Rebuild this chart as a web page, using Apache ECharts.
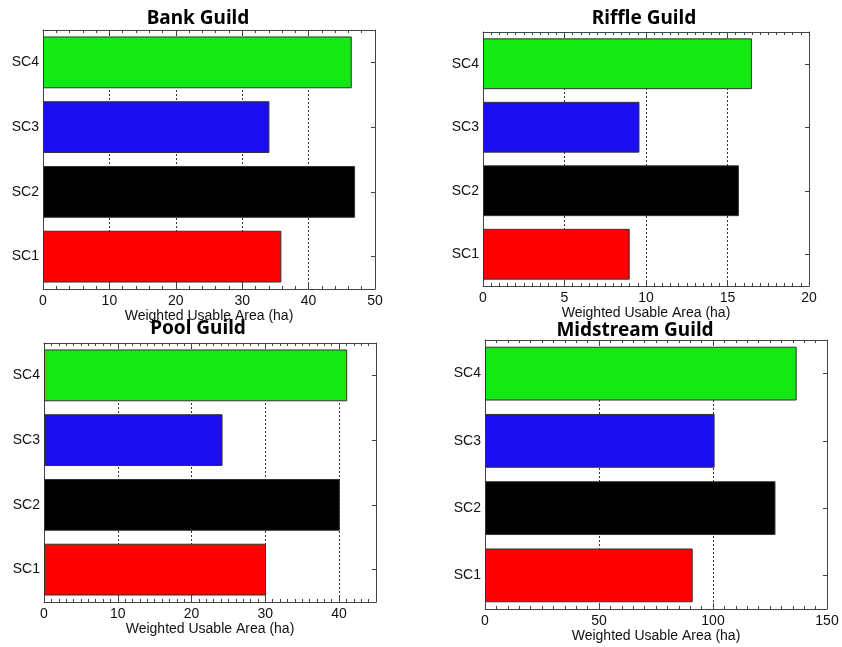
<!DOCTYPE html>
<html>
<head>
<meta charset="utf-8">
<script src="https://cdn.jsdelivr.net/npm/echarts@6/dist/echarts.min.js"></script>
<style>
html,body{margin:0;padding:0;background:#fff;}
#chart{width:842px;height:647px;}
</style>
</head>
<body>
<div id="chart"></div>
<script>
// ---- data ----
const categories = ['SC1', 'SC2', 'SC3', 'SC4'];
const bankValues = [35.9, 47.0, 34.1, 46.5];
const riffleValues = [9.0, 15.7, 9.6, 16.5];
const poolValues = [30.1, 40.1, 24.2, 41.1];
const midstreamValues = [91.1, 127.4, 100.7, 136.7];
const panelTitles = ['Bank Guild', 'Riffle Guild', 'Pool Guild', 'Midstream Guild'];
const axisMax = [50, 20, 45, 150];
const majorStep = [10, 5, 10, 50];
const minorStep = [2, 0.5, 1, 5];
const xAxisName = 'Weighted Usable Area (ha)';
const barColors = ['#FF0000', '#000000', '#1A0DEF', '#12E812'];

// ---- layout ----
const grids = [
  {left: 43, top: 30, width: 332, height: 259},
  {left: 483, top: 32, width: 326, height: 254},
  {left: 44, top: 343, width: 332, height: 259},
  {left: 485, top: 340, width: 342, height: 269}
];
const titlePos = [[198, 9], [644, 9], [198, 319], [635, 321]];
const valuesList = [bankValues, riffleValues, poolValues, midstreamValues];

const lineColor = '#444';
const textColor = '#111';
const font = 'Liberation Sans, Arial, sans-serif';

const option = {
  animation: false,
  backgroundColor: '#fff',
  title: [],
  grid: [],
  xAxis: [],
  yAxis: [],
  series: []
};

for (let i = 0; i < 4; i++) {
  const g = grids[i];
  option.grid.push(Object.assign({containLabel: false}, g));
  option.title.push({
    text: panelTitles[i],
    left: titlePos[i][0],
    top: titlePos[i][1],
    textAlign: 'center',
    padding: 0,
    textStyle: {fontFamily: 'Noto Sans', fontWeight: 'bold', fontSize: 19, color: '#000'}
  });
  const step = majorStep[i];
  // bottom major axis (labels, major ticks, grid lines)
  option.xAxis.push({
    type: 'value', gridIndex: i, position: 'bottom', min: 0, max: axisMax[i], interval: step,
    name: xAxisName, nameLocation: 'middle', nameGap: 20,
    nameTextStyle: {fontFamily: font, fontSize: 14, color: textColor},
    axisLine: {show: true, onZero: false, lineStyle: {color: lineColor, width: 1}},
    axisTick: {show: true, inside: true, length: 6, lineStyle: {color: lineColor}},
    axisLabel: {fontFamily: font, fontSize: 14, color: textColor, margin: 5,
      formatter: function (v) { return (Math.abs(v / step - Math.round(v / step)) < 1e-9) ? String(v) : ''; }},
    splitLine: {show: true, lineStyle: {color: '#333', type: [2, 2], width: 1}}
  });
  // top major axis
  option.xAxis.push({
    type: 'value', gridIndex: i, position: 'top', min: 0, max: axisMax[i], interval: step,
    axisLine: {show: true, onZero: false, lineStyle: {color: lineColor, width: 1}},
    axisTick: {show: true, inside: true, length: 5, lineStyle: {color: lineColor}},
    axisLabel: {show: false},
    splitLine: {show: false}
  });
  // bottom minor ticks axis
  option.xAxis.push({
    type: 'value', gridIndex: i, position: 'bottom', min: 0, max: axisMax[i], interval: minorStep[i],
    axisLine: {show: false, onZero: false},
    axisTick: {show: true, inside: true, length: 3, lineStyle: {color: lineColor}},
    axisLabel: {show: false},
    splitLine: {show: false}
  });
  // top minor ticks axis
  option.xAxis.push({
    type: 'value', gridIndex: i, position: 'top', min: 0, max: axisMax[i], interval: minorStep[i],
    axisLine: {show: false, onZero: false},
    axisTick: {show: true, inside: true, length: 3, lineStyle: {color: lineColor}},
    axisLabel: {show: false},
    splitLine: {show: false}
  });
  // left category axis
  option.yAxis.push({
    type: 'category', gridIndex: i, position: 'left', data: categories,
    axisLine: {show: true, onZero: false, lineStyle: {color: lineColor, width: 1}},
    axisTick: {show: false},
    axisLabel: {fontFamily: font, fontSize: 14, color: textColor, margin: 4},
    splitLine: {show: false}
  });
  // right category axis (ticks only)
  option.yAxis.push({
    type: 'category', gridIndex: i, position: 'right', data: categories,
    axisLine: {show: true, onZero: false, lineStyle: {color: lineColor, width: 1}},
    axisTick: {show: true, inside: true, length: 4, alignWithLabel: true, lineStyle: {color: lineColor}},
    axisLabel: {show: false},
    splitLine: {show: false}
  });
  option.series.push({
    type: 'bar',
    name: panelTitles[i],
    xAxisIndex: i * 4,
    yAxisIndex: i * 2,
    barCategoryGap: '20%',
    data: valuesList[i].map(function (v, k) {
      return {value: v, itemStyle: {color: barColors[k]}};
    }),
    itemStyle: {borderColor: '#333', borderWidth: 1},
    z: 3
  });
}

const chart = echarts.init(document.getElementById('chart'), null, {renderer: 'canvas'});
chart.setOption(option);
</script>
</body>
</html>
